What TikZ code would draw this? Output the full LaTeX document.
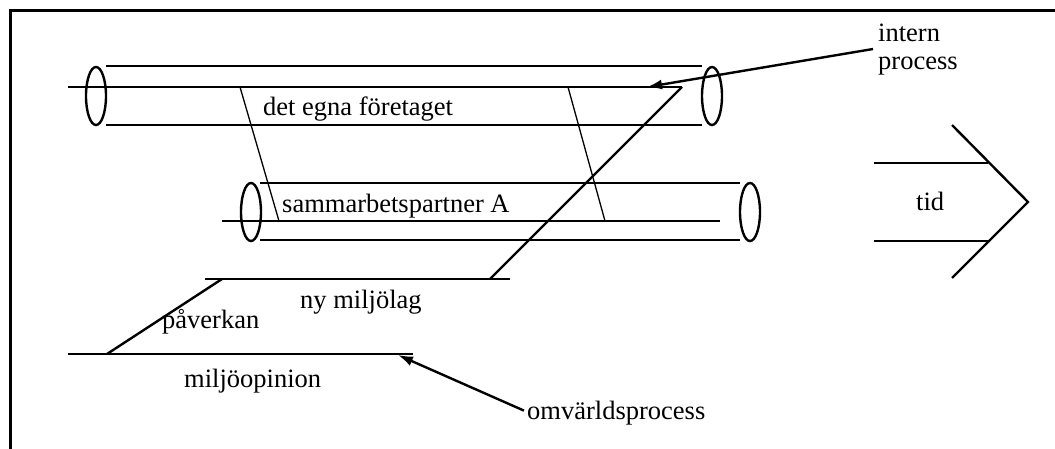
\documentclass[tikz,border=0pt]{standalone}
\usepackage{fontspec}
\setmainfont{Liberation Serif}
\usetikzlibrary{arrows.meta}
\begin{document}
\begin{tikzpicture}[x=1pt,y=-1pt,
  heavy/.style={line width=2.4pt},
  thin link/.style={line width=1.3pt},
  pointer/.style={line width=2.4pt,-{Latex[length=15pt,width=10pt]}},
  lbl/.style={font=\fontsize{26.5}{30}\selectfont,inner sep=0pt,anchor=base west},
  endcap/.style={line width=2.4pt}]
\useasboundingbox (0,0) rectangle (1055,448);
\clip (0,0) rectangle (1055,448);
% frame
\draw[line width=3pt] (10,470) -- (10,10) -- (1080,10);
% tube 1: det egna foretaget
\draw[heavy] (106,66) -- (702,66);
\draw[heavy] (106,125) -- (702,125);
\coordinate (p1s) at (68,87);
\coordinate (p1e) at (682,87);
\draw[heavy] (p1s) -- (p1e);
\draw[endcap] (96,96) ellipse [x radius=10,y radius=29];
\draw[endcap] (712,96) ellipse [x radius=10,y radius=29];
\node[lbl] (foretag) at (263,115) {det egna företaget};
% tube 2: sammarbetspartner A
\draw[heavy] (260,183) -- (740,183);
\draw[heavy] (260,240) -- (740,240);
\coordinate (p2s) at (222,221);
\coordinate (p2e) at (720,221);
\draw[heavy] (p2s) -- (p2e);
\draw[endcap] (251,212) ellipse [x radius=10,y radius=29];
\draw[endcap] (750,212) ellipse [x radius=10,y radius=29];
\node[lbl] (partner) at (282,212) {sammarbetspartner A};
% links between processes
\coordinate (l1a) at (240,87);
\coordinate (l1b) at (279,221);
\coordinate (l2a) at (568,87);
\coordinate (l2b) at (605,221);
\draw[thin link] (l1a) -- (l1b);
\draw[thin link] (l2a) -- (l2b);
% ny miljolag
\coordinate (nys) at (205,279);
\coordinate (nye) at (510,279);
\coordinate (nyd) at (490,279);
\draw[heavy] (nys) -- (nye);
\draw[heavy] (p1e) -- (nyd);
\node[lbl] (nylag) at (300,308) {ny miljölag};
% miljoopinion
\coordinate (ms) at (68,354);
\coordinate (me) at (413,354);
\coordinate (mp) at (107,354);
\coordinate (np) at (222,279);
\draw[heavy] (ms) -- (me);
\draw[heavy] (mp) -- (np);
\node[lbl] (paverkan) at (162,328) {påverkan};
\node[lbl] (opinion) at (184,387) {miljöopinion};
% labels with arrows
\node[lbl] (intern) at (878,41) {intern};
\node[lbl] (process) at (878,69) {process};
\coordinate (ia) at (647,87);
\coordinate (ib) at (873,49);
\draw[pointer] (ib) -- (ia);
\node[lbl] (omv) at (527,419) {omvärldsprocess};
\coordinate (oa) at (398,355);
\draw[pointer] (omv.west) ++(-3,-2) coordinate (ob) -- (oa);
% tid arrow
\draw[heavy] (874,163) -- (988,163);
\draw[heavy] (874,241) -- (988,241);
\coordinate (ct) at (952,125);
\coordinate (cm) at (1028,202);
\coordinate (cb) at (952,278);
\draw[heavy] (ct) -- (cm) -- (cb);
\node[lbl] (tid) at (916,210) {tid};
\end{tikzpicture}
\end{document}
